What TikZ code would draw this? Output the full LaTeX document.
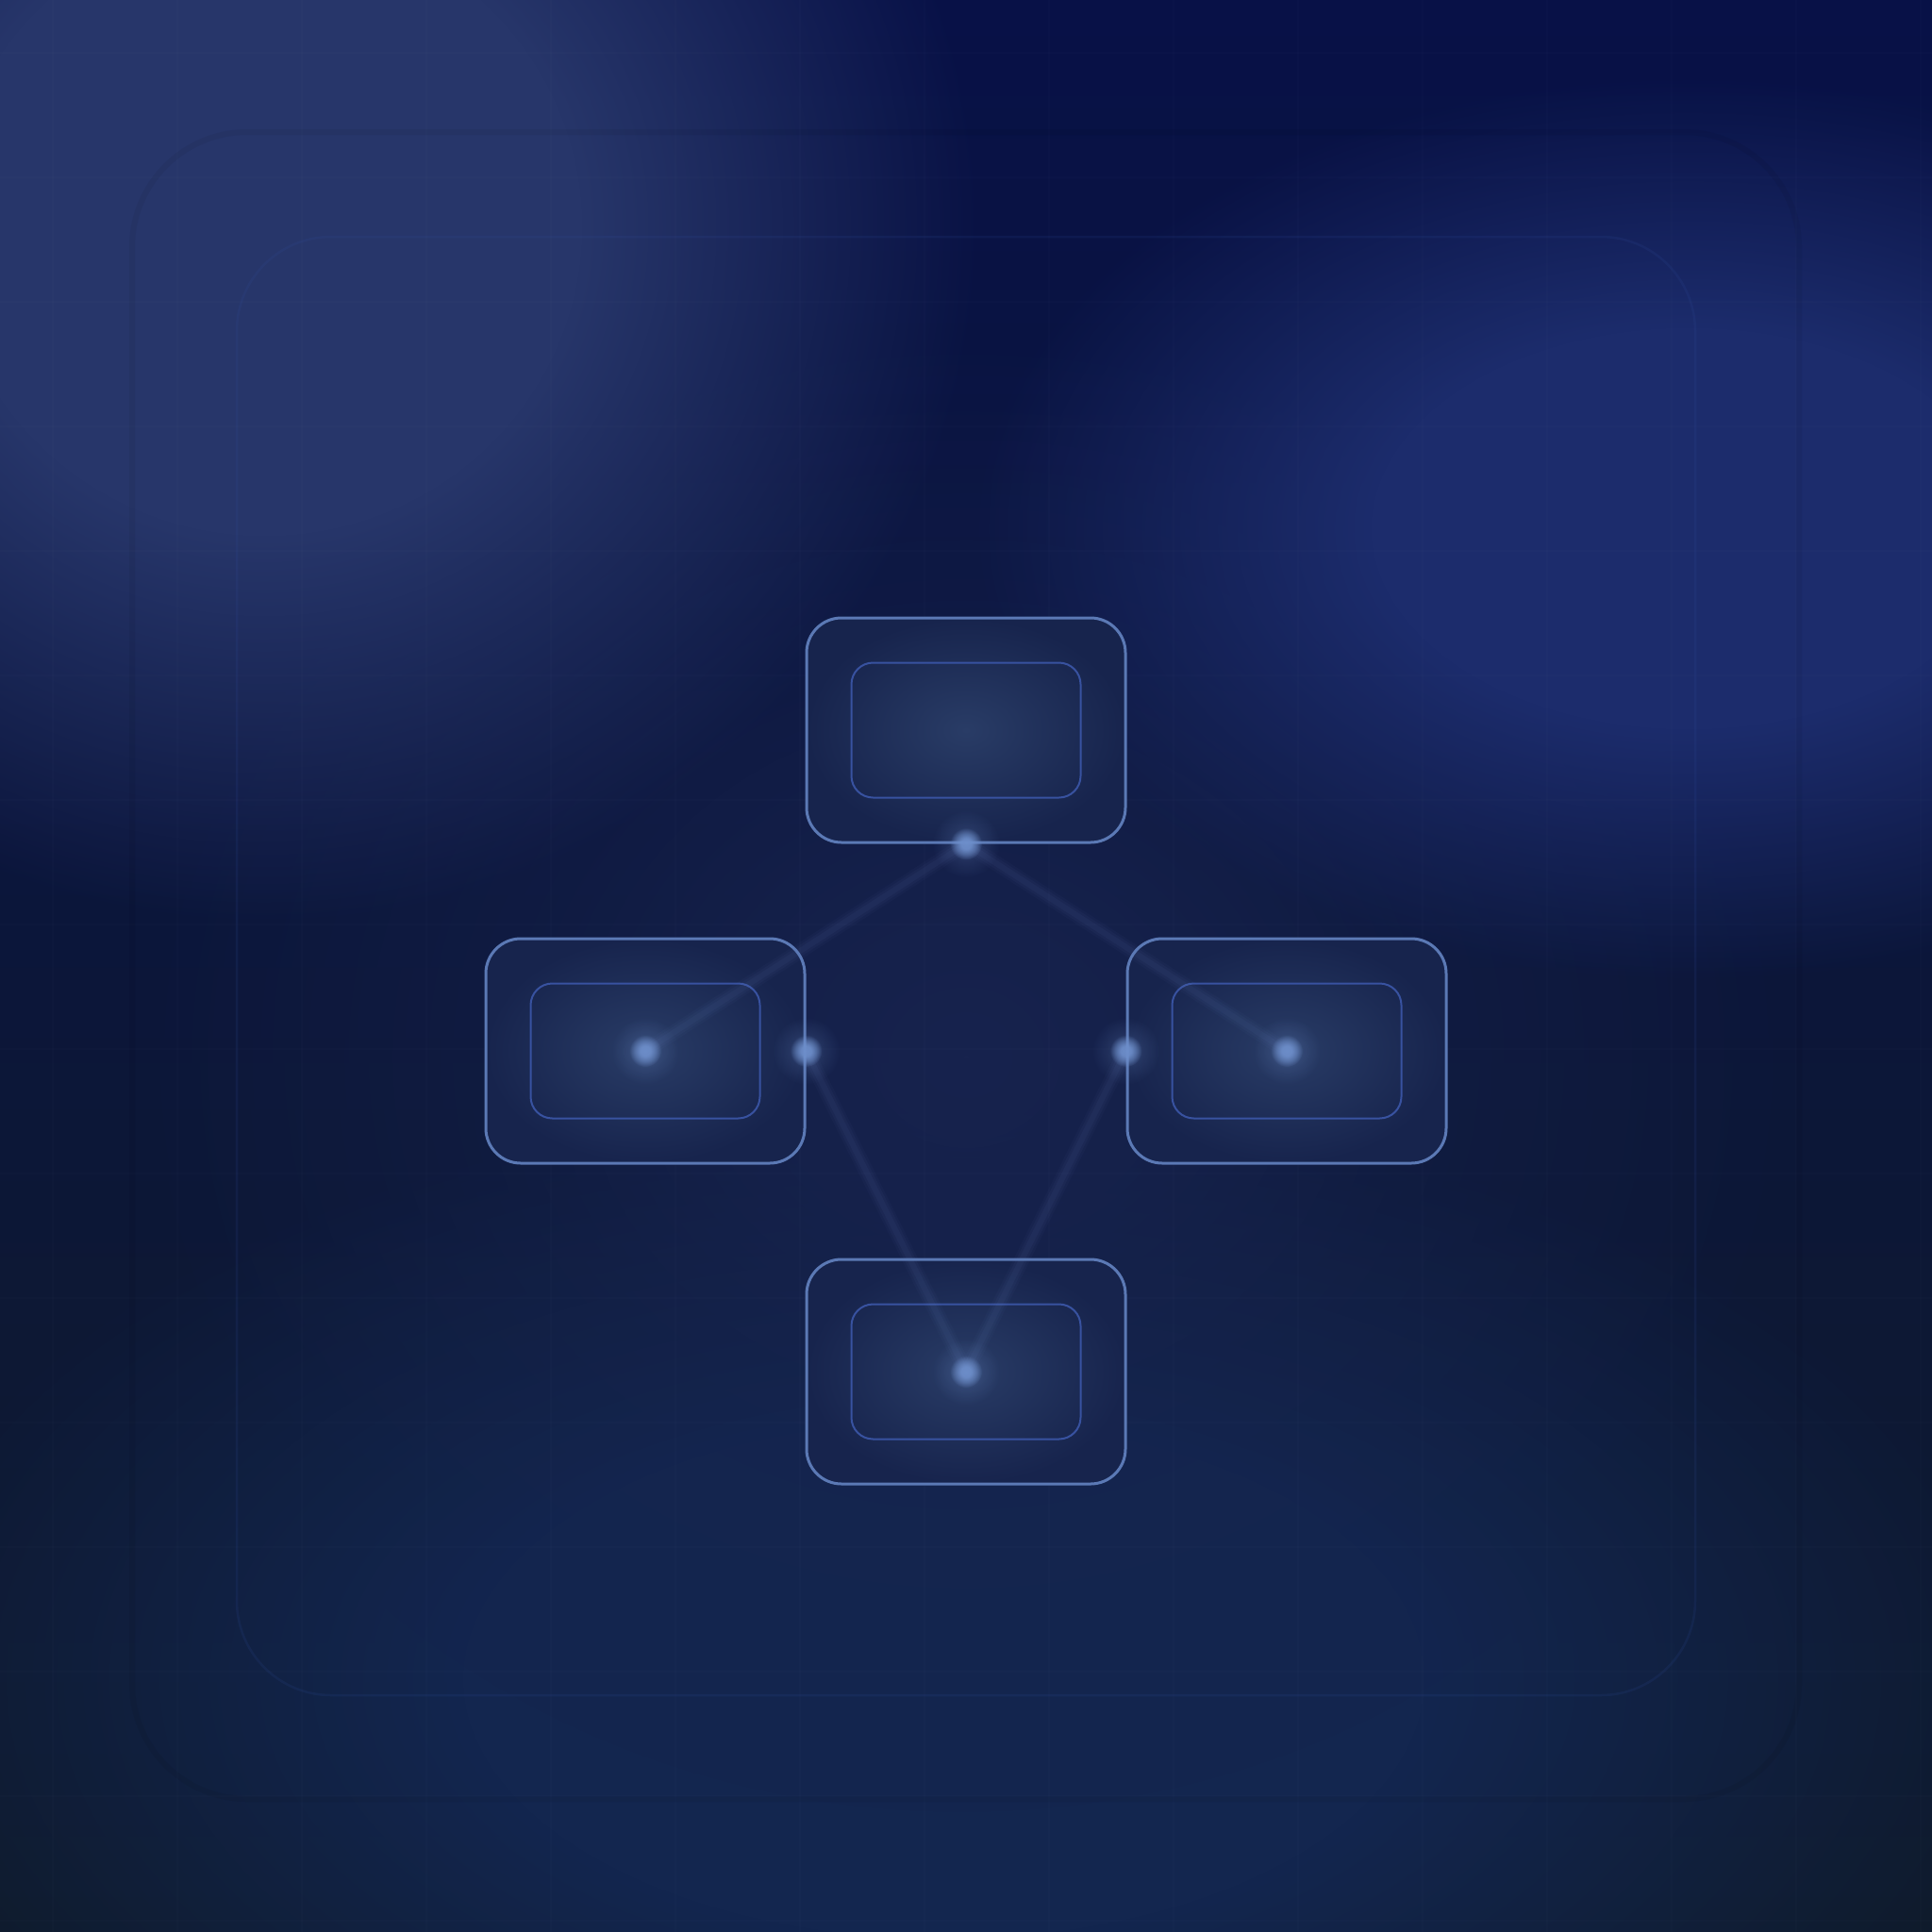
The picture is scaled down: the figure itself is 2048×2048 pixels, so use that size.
\documentclass[tikz,border=0pt]{standalone}
\usetikzlibrary{fadings}
\definecolor{bgtop}{HTML}{081147}
\definecolor{bgmid}{HTML}{0C1740}
\definecolor{bgbot}{HTML}{0F1B2C}
\definecolor{blobTL}{HTML}{27366A}
\definecolor{blobR}{HTML}{1C2C6C}
\definecolor{blobB}{HTML}{13264F}
\definecolor{blobC}{HTML}{17234E}
\definecolor{boxedge}{HTML}{5B79B5}
\definecolor{inneredge}{HTML}{3852A0}
\definecolor{boxin}{HTML}{293C66}
\definecolor{boxout}{HTML}{17244D}
\definecolor{dotc}{HTML}{6E8FCB}
\definecolor{linec}{HTML}{6A84C0}
\definecolor{framec}{HTML}{3350A0}
\pgfdeclareradialshading{softsh}{\pgfpointorigin}{color(0bp)=(pgftransparent!0); color(6bp)=(pgftransparent!20); color(13bp)=(pgftransparent!60); color(25bp)=(pgftransparent!100); color(50bp)=(pgftransparent!100)}
\pgfdeclarefading{softfade}{\pgfuseshading{softsh}}
\pgfdeclareradialshading{platsh}{\pgfpointorigin}{color(0bp)=(pgftransparent!0); color(11bp)=(pgftransparent!0); color(18bp)=(pgftransparent!50); color(25bp)=(pgftransparent!100); color(50bp)=(pgftransparent!100)}
\pgfdeclarefading{platfade}{\pgfuseshading{platsh}}
\pgfdeclareradialshading{coresh}{\pgfpointorigin}{color(0bp)=(pgftransparent!0); color(8bp)=(pgftransparent!5); color(16bp)=(pgftransparent!45); color(25bp)=(pgftransparent!100); color(50bp)=(pgftransparent!100)}
\pgfdeclarefading{corefade}{\pgfuseshading{coresh}}
\tikzset{
  outerbox/.style={draw=boxedge, line width=3bp, rounded corners=37bp, minimum width=338bp, minimum height=238bp, inner sep=0pt, shade, inner color=boxin, outer color=boxout},
  innerbox/.style={draw=inneredge, line width=2bp, rounded corners=23bp, minimum width=243bp, minimum height=143bp, inner sep=0pt},
  glowline/.style={linec, line cap=round},
  gridline/.style={white, opacity=0.012, line width=1.5bp},
}
\begin{document}
\begin{tikzpicture}[x=1bp,y=-1bp]
\useasboundingbox (0,0) rectangle (2048,2048);
% background
\shade[top color=bgtop, middle color=bgmid, bottom color=bgbot] (0,0) rectangle (2048,2048);
\fill[blobB, path fading=platfade] (1000,1780) ellipse (1150 and 620);
\fill[blobC, path fading=softfade] (1024,1120) ellipse (900 and 800);
\fill[blobTL, path fading=platfade] (280,240) ellipse (760 and 740);
\fill[blobR, path fading=platfade] (1790,560) ellipse (760 and 480);
% grid
\foreach \i in {0,...,15} {
  \draw[gridline] (56+132*\i,0) -- (56+132*\i,2048);
  \draw[gridline] (0,56+132*\i) -- (2048,56+132*\i);
}
% frames
\draw[black, opacity=0.05, line width=6bp, rounded corners=122bp] (140,140) rectangle (1907,1907);
\draw[framec, opacity=0.14, line width=2.5bp, rounded corners=100bp] (251,251) rectangle (1797,1797);
% boxes
\node[outerbox] (top) at (1024,774) {};
\node[outerbox] (left) at (684,1114) {};
\node[outerbox] (right) at (1364,1114) {};
\node[outerbox] (bottom) at (1024,1454) {};
\node[innerbox] (topin) at (top.center) {};
\node[innerbox] (leftin) at (left.center) {};
\node[innerbox] (rightin) at (right.center) {};
\node[innerbox] (bottomin) at (bottom.center) {};
% connectors
\foreach \a/\b in {top.south/left.center, top.south/right.center, left.east/bottom.center, right.west/bottom.center} {
  \draw[glowline, line width=16bp, opacity=0.04] (\a) -- (\b);
  \draw[glowline, line width=11bp, opacity=0.05] (\a) -- (\b);
  \draw[glowline, line width=6bp, opacity=0.06] (\a) -- (\b);
}
% glow dots
\foreach \p in {top.south, left.center, left.east, right.west, right.center, bottom.center} {
  \fill[dotc, opacity=0.35, path fading=softfade] (\p) circle (36);
  \fill[dotc, opacity=0.95, path fading=corefade] (\p) circle (17);
}
\end{tikzpicture}
\end{document}
